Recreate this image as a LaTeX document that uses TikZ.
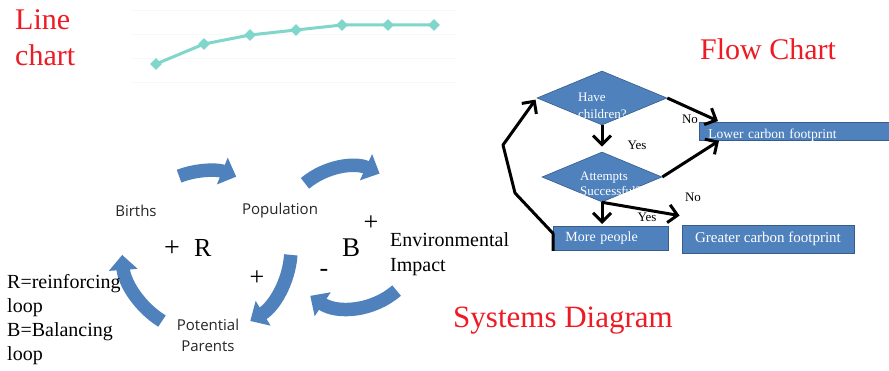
\documentclass[tikz,border=0pt]{standalone}
\usepackage{fontspec}
\setmainfont{Liberation Serif}
\newfontfamily\labelsans{Open Sans}
\usetikzlibrary{shapes.geometric,arrows.meta}
\definecolor{chartteal}{RGB}{127,214,203}
\definecolor{titlered}{RGB}{237,28,36}
\definecolor{loopblue}{RGB}{79,129,189}
\definecolor{boxedge}{RGB}{56,93,138}
\definecolor{gridgray}{RGB}{248,248,248}
\newcommand\fsz[1]{\fontsize{#1}{#1}\selectfont}
\begin{document}
\begin{tikzpicture}[x=1pt,y=-1pt,
  title/.style={text=titlered, font=\fsz{30}, inner sep=0pt, anchor=base west},
  serif/.style={font=\fsz{#1}, inner sep=0pt},
  sanslabel/.style={font=\labelsans\fontsize{15}{21}\selectfont, text=black!85, inner sep=0pt},
  marker/.style={diamond, fill=chartteal, minimum size=12pt, inner sep=0pt},
  looparrow/.style={draw=loopblue, line width=13.5pt, -{Triangle[width=28pt,length=15pt]}},
  decision/.style={diamond, fill=loopblue, draw=boxedge, line width=0.6pt, inner sep=0pt},
  flowbox/.style={rectangle, fill=loopblue, draw=boxedge, line width=0.8pt, text=white},
  flowtext/.style={text=white, font=\fsz{13}, inner sep=0pt, anchor=base west},
  flowarrow/.style={draw=black, line width=3pt, -{Straight Barb[length=9pt,width=18pt]}},
  flowlabel/.style={font=\fsz{13}, inner sep=0pt},
]
\clip (0,0) rectangle (889,371);
\fill[white] (0,0) rectangle (889,371);

% ---------- line chart ----------
\foreach \gy in {10,34,58,82}
  \draw[gridgray, line width=0.8pt] (130,\gy) -- (456,\gy);
\foreach \i/\x/\y in {1/156/64,2/204/44,3/250/35,4/296/30,5/342/25,6/388/25,7/434/25}
  \node[marker] (p\i) at (\x,\y) {};
\draw[chartteal, line width=3pt, line join=round]
  (p1.center) -- (p2.center) -- (p3.center) -- (p4.center) -- (p5.center) -- (p6.center) -- (p7.center);
\node[title] (linetitle) at (15,30) {Line};
\node[title] (charttitle) at (15,66) {chart};

% ---------- systems diagram ----------
\coordinate (rloop) at (207,249);
\coordinate (bloop) at (350,237);
\draw[looparrow] ([shift={(-111:78)}]rloop) arc[start angle=-111, end angle=-68, radius=78];
\draw[looparrow] ([shift={(4:84)}]rloop) arc[start angle=4, end angle=59, radius=84];
\draw[looparrow] ([shift={(122:85)}]rloop) arc[start angle=122, end angle=176, radius=85];
\draw[looparrow] ([shift={(-130:70)}]bloop) arc[start angle=-130, end angle=-65, radius=70];
\draw[looparrow] ([shift={(49:71)}]bloop) arc[start angle=49, end angle=124, radius=71];

\node[sanslabel] (births) at (136,211) {Births};
\node[sanslabel] (population) at (280,211) {Population};
\node[sanslabel, align=center] (parents) at (208,335.5) {Potential\\Parents};

\node[serif=28] (rplus) at (172,249) {+};
\node[serif=26, anchor=base west] (rletter) at (194,257) {R};
\node[serif=26] (pplus) at (257,278) {+};
\node[serif=27, anchor=base west] (bletter) at (342,257) {B};
\node[serif=26] (bplus) at (371,223) {+};
\node[serif=26] (bminus) at (324,273) {-};
\node[serif=20, anchor=base west] (env1) at (390,247) {Environmental};
\node[serif=20, anchor=base west] (env2) at (390,272) {Impact};

\node[serif=20, anchor=base west] (leg1) at (7,289) {R=reinforcing};
\node[serif=20, anchor=base west] (leg2) at (7,313) {loop};
\node[serif=20, anchor=base west] (leg3) at (7,337) {B=Balancing};
\node[serif=20, anchor=base west] (leg4) at (7,360) {loop};

\node[title, font=\fsz{31}] (systitle) at (453,328) {Systems Diagram};

% ---------- flow chart ----------
\node[title] (flowtitle) at (700,60) {Flow Chart};

\node[flowlabel] (no1) at (690,119) {No};
\node[flowlabel] (yes1) at (637,145) {Yes};
\node[flowlabel] (no2) at (693,197) {No};
\node[flowlabel] (yes2) at (647,217) {Yes};

\node[decision, minimum width=130pt, minimum height=54pt] (d1) at (602,98) {};
\node[decision, minimum width=120pt, minimum height=50pt] (d2) at (602,177) {};
\node[flowtext] (d1a) at (578,102) {Have};
\node[flowtext] (d1b) at (578,119) {children?};
\node[flowtext] (d2a) at (580,181) {Attempts};
\node[flowtext] (d2b) at (580,196) {Successful?};

% the caption sits low in its bar, so its descenders run past the lower edge
\node[flowbox, anchor=north west, text height=15pt, text depth=0pt, inner ysep=1.5pt,
      inner xsep=9pt, text width=182pt, align=left, font=\fsz{13.5}]
  (lower) at (699,122) {Lower carbon footprint};
\node[flowbox, anchor=north west, minimum height=24pt, text width=91pt, inner xsep=12pt,
      align=left, font=\fsz{14}] (more) at (553,226) {More people};
\node[flowbox, minimum width=172pt, minimum height=28pt, font=\fsz{15}]
  (greater) at (768,239) {Greater carbon footprint};

\coordinate (turnlow) at (515,193);
\coordinate (turnhigh) at (503,145);

\draw[flowarrow] (d1.south) -- ([yshift=5pt]d2.north);
\draw[flowarrow] (d1.east) -- ([xshift=19pt,yshift=1pt]lower.north west);
\draw[flowarrow] (d2.east) -- ([xshift=20pt]lower.south west);
\draw[flowarrow] (d2.south) -- ([xshift=-2pt,yshift=9pt]greater.north west);
\draw[flowarrow] (d2.south) -- ([yshift=2pt]d2.south |- more.north);
\draw[flowarrow, line join=round, shorten >=2pt]
  (more.south west) -- ([yshift=5pt]more.west) -- (turnlow) -- (turnhigh) -- (d1.west);
\end{tikzpicture}
\end{document}
